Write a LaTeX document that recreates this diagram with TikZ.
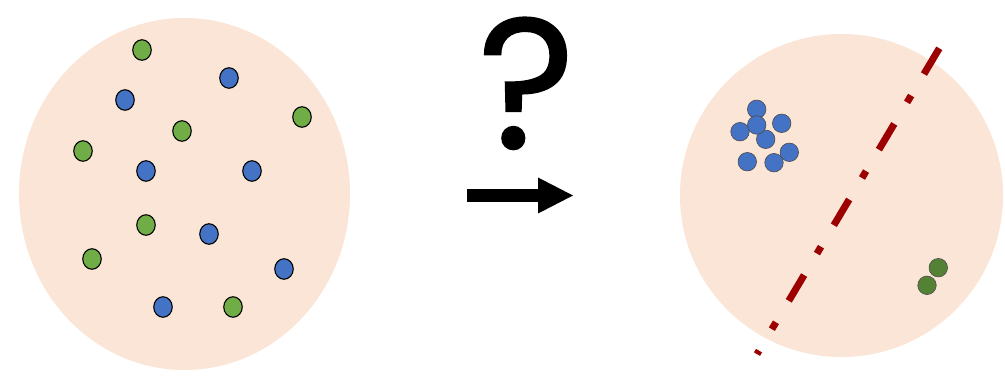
\documentclass[tikz,border=0pt]{standalone}
\usepackage{fontspec}
\newfontfamily\qfont[FakeBold=0.8]{Poppins}
\usetikzlibrary{arrows.meta,shapes.geometric}
\definecolor{peach}{HTML}{FBE5D6}
\definecolor{ptblue}{HTML}{4472C4}
\definecolor{ptgreen}{HTML}{70AD47}
\definecolor{darkgreen}{HTML}{548235}
\definecolor{sepred}{HTML}{9C0000}

\begin{document}
\begin{tikzpicture}[
  x=1pt, y=-1pt,
  every node/.style={inner sep=0pt, outer sep=0pt},
  sample/.style={ellipse, draw=black, line width=1.1pt, minimum width=18.5pt, minimum height=20.5pt},
  bluept/.style={sample, fill=ptblue},
  greenpt/.style={sample, fill=ptgreen},
  member/.style={circle, draw=black!70, line width=0.6pt, minimum size=18.5pt},
  blob/.style={fill=peach}
]
\useasboundingbox[fill=white] (0,0) rectangle (1005,382);

% unsorted data
\fill[blob] (184.5,194) ellipse [x radius=165.5pt, y radius=176pt];
\foreach \x/\y [count=\i] in {142/50, 302/117, 182/131, 83/151, 146/225, 92/259, 233/307}
  \node[greenpt] (g\i) at (\x,\y) {};
\foreach \x/\y [count=\i] in {229/78, 125/100, 146/171, 252/171, 209/234, 284/269, 163/307}
  \node[bluept] (b\i) at (\x,\y) {};

% question and arrow
\node[font=\qfont\fontsize{186}{186}\selectfont, anchor=base] (ask) at (526.5,148.5) {?};
\coordinate (arrS) at (467,195.5);
\coordinate (arrE) at (573,195.5);
\draw[line width=13pt, -{Triangle[length=35pt, width=36pt, line width=0pt]}] (arrS) -- (arrE);

% clustered data
\fill[blob] (841.5,195.5) circle [radius=161.5pt];
\foreach \x/\y [count=\i] in {756.7/109.3, 740/131.7, 765.7/139.3, 756.7/125, 781.7/123.3, 747.3/161.7, 789.3/152.3, 774/162.7}
  \node[member, fill=ptblue] (c\i) at (\x,\y) {};
\node[member, fill=darkgreen] (d1) at (938.3,267.7) {};
\node[member, fill=darkgreen] (d2) at (927,285.3) {};

% separating line
\coordinate (sepTop) at (939.3,48.3);
\coordinate (sepBot) at (757,354.1);
\draw[sepred, line width=7pt, dash pattern=on 30pt off 25pt on 8pt off 25pt] (sepTop) -- (sepBot);
\end{tikzpicture}
\end{document}
